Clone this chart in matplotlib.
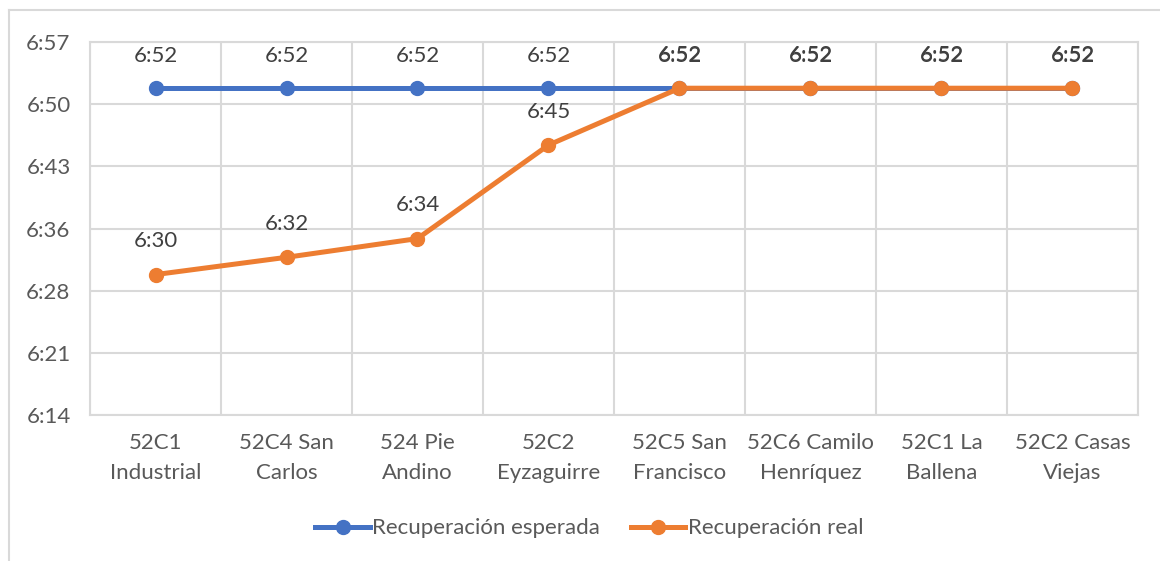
import numpy as np
import matplotlib
matplotlib.use("Agg")
import matplotlib.pyplot as plt
from matplotlib.lines import Line2D

# datos
paraderos = ["52C1\nIndustrial", "52C4 San\nCarlos", "524 Pie\nAndino", "52C2\nEyzaguirre",
             "52C5 San\nFrancisco", "52C6 Camilo\nHenríquez", "52C1 La\nBallena", "52C2 Casas\nViejas"]
esperada = ["6:52:15"] * 8
real = ["6:30:40", "6:32:40", "6:34:50", "6:45:40", "6:52:15", "6:52:15", "6:52:15", "6:52:15"]
ticks_y = ["6:14:24", "6:21:36", "6:28:48", "6:36:00", "6:43:12", "6:50:24", "6:57:36"]


def a_min(s):
    h, m, sec = [int(v) for v in s.split(":")]
    return h * 60 + m + sec / 60.0


def fmt(v):
    # formato h:mm, truncando segundos
    tot = int(np.floor(v + 1e-6))
    return "%d:%02d" % (tot // 60, tot % 60)


y_esp = np.array([a_min(s) for s in esperada])
y_real = np.array([a_min(s) for s in real])
yt = np.array([a_min(s) for s in ticks_y])
x = np.arange(len(paraderos))

plt.rcParams['font.family'] = ['Lato', 'DejaVu Sans']
gris = "#595959"
azul = "#4472C4"
naranjo = "#ED7D31"
fs = 16

fig = plt.figure(figsize=(11.6, 5.61), dpi=100)
ax = fig.add_axes([0.0776, 0.2602, 0.9034, 0.6649])

ax.plot(x, y_esp, color=azul, lw=3.6, marker="o", ms=10, zorder=3, solid_capstyle="round")
ax.plot(x, y_real, color=naranjo, lw=3.6, marker="o", ms=10, zorder=4, solid_capstyle="round")

for xi, v in zip(x, y_esp):
    ax.annotate(fmt(v), (xi, v), xytext=(0, 23), textcoords="offset points",
                ha="center", va="center", fontsize=fs, color="#404040")
for xi, v in zip(x, y_real):
    ax.annotate(fmt(v), (xi, v), xytext=(0, 24), textcoords="offset points",
                ha="center", va="center", fontsize=fs, color="#404040")

ax.set_xlim(-0.5, len(x) - 0.5)
ax.set_ylim(yt[0], yt[-1])
ax.set_yticks(yt)
ax.set_yticklabels([fmt(v) for v in yt])
ax.set_xticks(x)
ax.set_xticklabels(paraderos, linespacing=1.6)
ax.set_xticks(np.arange(len(x) + 1) - 0.5, minor=True)
ax.grid(True, which="minor", axis="x", color="#D9D9D9", lw=1.5)
ax.grid(True, which="major", axis="y", color="#D9D9D9", lw=1.5)
ax.set_axisbelow(True)
for s in ax.spines.values():
    s.set_color("#D9D9D9")
    s.set_linewidth(1.5)
ax.tick_params(which="both", length=0, labelsize=fs, labelcolor=gris)
ax.tick_params(axis="y", pad=14)
ax.tick_params(axis="x", pad=13)

h = [Line2D([], [], color=azul, lw=3.6, marker="o", ms=10),
     Line2D([], [], color=naranjo, lw=3.6, marker="o", ms=10)]
fig.legend(h, ["Recuperación esperada", "Recuperación real"], loc="center",
           bbox_to_anchor=(0.508, 0.058), ncol=2, frameon=False, fontsize=fs,
           labelcolor=gris, handlelength=2.45, handletextpad=0.1, columnspacing=1.4)

# borde del gráfico
fig.add_artist(Line2D([0.0075, 1.0], [0.982, 0.982], color="#D9D9D9", lw=1.5))
fig.add_artist(Line2D([0.0075, 0.0075], [0.0, 0.982], color="#D9D9D9", lw=1.5))

fig.savefig("out.png", dpi=100)
